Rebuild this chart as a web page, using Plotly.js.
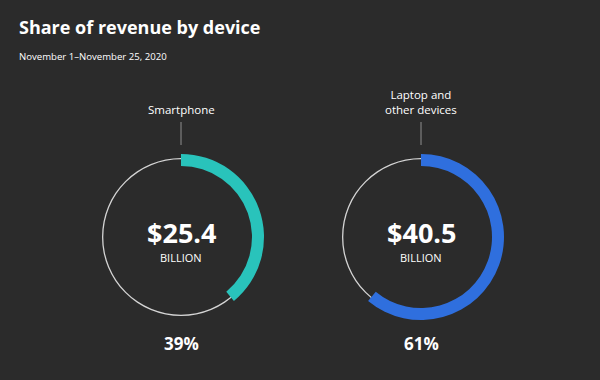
<!DOCTYPE html>
<html><head><meta charset="utf-8">
<script src="https://cdn.plot.ly/plotly-3.0.1.min.js"></script>
<style>html,body{margin:0;padding:0;background:#2b2b2b;}</style>
</head><body><div id="chart" style="width:600px;height:380px;"></div>
<script>
const devices = ['Smartphone', 'Laptop and<br>other devices'];
const revenueBillion = [25.4, 40.5];
const sharePct = [39, 61];
const colors = ['#29c3bb', '#2f6fde'];

const W = 600, H = 380;
const centersX = [181, 421];
const centerY = 237;
const rOuter = 83, rInner = 71, rThin = 79;
const FONT = 'Open Sans, sans-serif';

function dom(cx, r) {
  return {x: [(cx - r) / W, (cx + r) / W], y: [1 - (centerY + r) / H, 1 - (centerY - r) / H]};
}
function ann(x, y, text, size, extra) {
  return Object.assign({x: x / W, y: 1 - y / H, xref: 'paper', yref: 'paper', showarrow: false,
    xanchor: 'center', yanchor: 'middle', text: text,
    font: {family: FONT, size: size, color: '#ffffff'}}, extra || {});
}

const data = [];
const annotations = [];
const shapes = [];
devices.forEach((d, i) => {
  data.push({type: 'pie', values: [1], labels: ['all'], hole: (rThin - 1.3) / rThin,
    domain: dom(centersX[i], rThin), marker: {colors: ['#d4d4d4'], line: {width: 0}},
    textinfo: 'none', hoverinfo: 'skip', showlegend: false, sort: false});
  data.push({type: 'pie', values: [sharePct[i], 100 - sharePct[i]], labels: [d, 'rest'],
    hole: rInner / rOuter, domain: dom(centersX[i], rOuter), direction: 'clockwise', rotation: 0,
    sort: false, marker: {colors: [colors[i], 'rgba(0,0,0,0)'], line: {width: 0}},
    textinfo: 'none', hoverinfo: 'skip', showlegend: false});
  annotations.push(ann(centersX[i], 232, '<b>$' + revenueBillion[i].toFixed(1) + '</b>', 27));
  annotations.push(ann(centersX[i], 257, 'BILLION', 11));
  annotations.push(ann(centersX[i], 343, '<b>' + sharePct[i] + '%</b>', 17));
  annotations.push(ann(centersX[i], 118.5, d, 11.5, {yanchor: 'bottom'}));
  shapes.push({type: 'line', xref: 'paper', yref: 'paper', x0: centersX[i] / W, x1: centersX[i] / W,
    y0: 1 - 122 / H, y1: 1 - 145 / H, line: {color: '#8f8f8f', width: 1}});
});

annotations.push(ann(17, 27, '<b>Share of revenue by device</b>', 18, {xanchor: 'left'}));
annotations.push(ann(17, 56, 'November 1–November 25, 2020', 9.6, {xanchor: 'left'}));

Plotly.newPlot('chart', data, {
  width: W, height: H, margin: {l: 0, r: 0, t: 0, b: 0},
  paper_bgcolor: '#2b2b2b', plot_bgcolor: '#2b2b2b',
  annotations: annotations, shapes: shapes, showlegend: false
}, {displayModeBar: false, staticPlot: true});
</script></body></html>
